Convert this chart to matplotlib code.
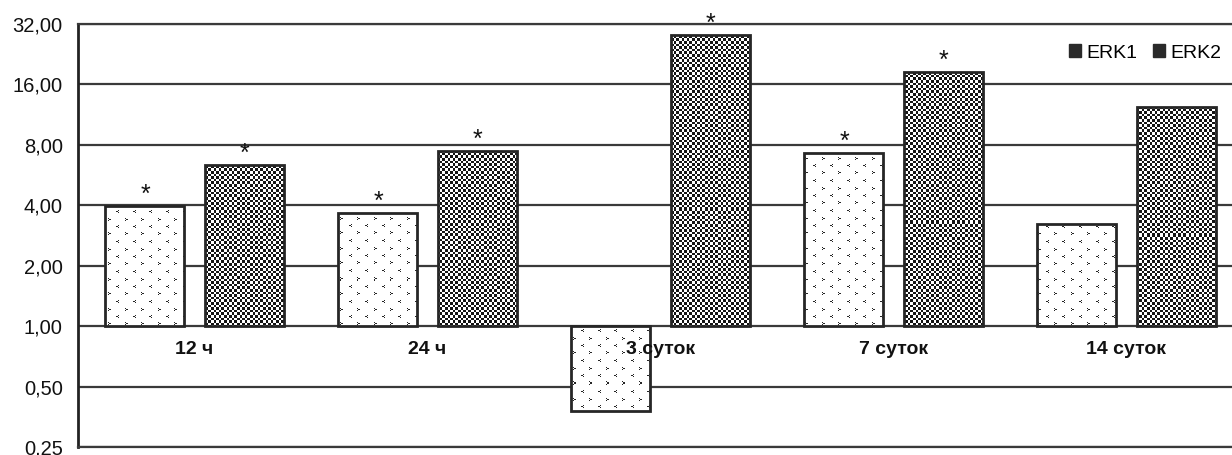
import numpy as np
import matplotlib
matplotlib.use('Agg')
import matplotlib.pyplot as plt
from matplotlib.image import AxesImage
from matplotlib.transforms import IdentityTransform
from matplotlib.ticker import FixedLocator, FixedFormatter, NullLocator
from matplotlib.patches import Patch

plt.rcParams['font.family'] = ['Liberation Sans', 'DejaVu Sans']

# ---- data ----
categories = ['12 ч', '24 ч', '3 суток', '7 суток', '14 суток']
series_names = ['ERK1', 'ERK2']
erk1 = [3.96, 3.66, 0.377, 7.28, 3.22]
erk2 = [6.35, 7.45, 28.2, 18.45, 12.35]
erk1_sig = [True, True, False, True, False]
erk2_sig = [True, True, True, True, False]
yticks = [0.25, 0.5, 1, 2, 4, 8, 16, 32]
ytick_labels = ['0,25', '0,50', '1,00', '2,00', '4,00', '8,00', '16,00', '32,00']

W, H = 1232, 455
fig = plt.figure(figsize=(W / 100, H / 100), dpi=100)
fig.patch.set_facecolor('white')
ax = fig.add_axes([78 / W, (H - 447) / H, (1243 - 78) / W, (447 - 24) / H])
ax.set_yscale('log', base=2)
ax.set_ylim(0.25, 32)
ax.set_xlim(-0.5, len(categories) - 0.5)

# ---- fill patterns (pixel space) ----
yy, xx = np.mgrid[0:H, 0:W]
cell = 2.6
checker = ((np.floor(xx / cell) + np.floor(yy / cell)) % 2).astype(bool)
chk_img = np.ones((H, W, 3))
chk_img[checker] = 0.08

dot_img = np.ones((H, W, 3))
lt = np.array([[0, 0, 1], [1, 1, 0], [0, 0, 1]], bool)
gt = lt[:, ::-1]
px, py = 16.6, 15.0
for j in range(int(H / py) + 2):
    for i in range(int(W / px) + 2):
        for glyph, ox, oy in ((lt, 0.0, 0.0), (gt, px / 2, py / 2)):
            x0 = int(round(i * px + ox))
            y0 = int(round(j * py + oy))
            if x0 + 3 <= W and y0 + 3 <= H:
                sub = dot_img[y0:y0 + 3, x0:x0 + 3]
                sub[glyph] = 0.15

ax.set_axisbelow(True)
x = np.arange(len(categories))
off = 0.2125
bw = 0.339
edge = '#262626'


def draw_series(vals, xpos, img):
    heights = [v - 1 for v in vals]
    bars = ax.bar(xpos, heights, bottom=1, width=bw, facecolor='none',
                  edgecolor=edge, linewidth=2.0, zorder=3)
    for b in bars:
        im = AxesImage(ax, interpolation='nearest', origin='upper',
                       extent=(0, W, 0, H))
        im.set_data(img)
        im.set_transform(IdentityTransform())
        im.set_zorder(2)
        im.set_clip_path(b)
        ax.add_image(im)
    return bars


draw_series(erk1, x - off, dot_img)
draw_series(erk2, x + off, chk_img)

ax.set_xlim(-0.5, len(categories) - 0.5)
ax.set_ylim(0.25, 32)

# significance stars
for xs, vals, sig in ((x - off, erk1, erk1_sig), (x + off, erk2, erk2_sig)):
    for xi, v, s in zip(xs, vals, sig):
        if s:
            ax.annotate('*', (xi, max(v, 1)), xytext=(0, 4),
                        textcoords='offset pixels', ha='center',
                        va='baseline', fontsize=18, color='#111', zorder=5)

# category labels at y = 1
for xi, c in zip(x, categories):
    ax.annotate(c, (xi, 1), xytext=(0, -23), textcoords='offset pixels',
                ha='center', va='center', fontsize=14, fontweight='bold',
                color='#111', zorder=6)

# axes styling
ax.yaxis.set_major_locator(FixedLocator(yticks))
ax.yaxis.set_major_formatter(FixedFormatter(ytick_labels))
ax.yaxis.set_minor_locator(NullLocator())
ax.set_xticks([])
ax.tick_params(axis='y', length=0, pad=11, labelsize=14.5, labelcolor='#111')
ax.grid(axis='y', color='#3a3a3a', linewidth=1.6)
ax.spines['right'].set_visible(False)
ax.spines['left'].set_color('#222')
ax.spines['left'].set_linewidth(2.0)
for s in ('top', 'bottom'):
    ax.spines[s].set_color('#3a3a3a')
    ax.spines[s].set_linewidth(1.6)

handles = [Patch(facecolor='#2a2a2a', edgecolor='#2a2a2a', label=n) for n in series_names]
fig.legend(handles=handles, loc='center left',
           bbox_to_anchor=(1069 / W, 1 - 53 / H), ncol=2, frameon=False,
           fontsize=14, handlelength=0.6, handleheight=0.6,
           handletextpad=0.3, columnspacing=0.8, borderpad=0,
           borderaxespad=0)

fig.savefig('out.png', dpi=100, facecolor='white')
